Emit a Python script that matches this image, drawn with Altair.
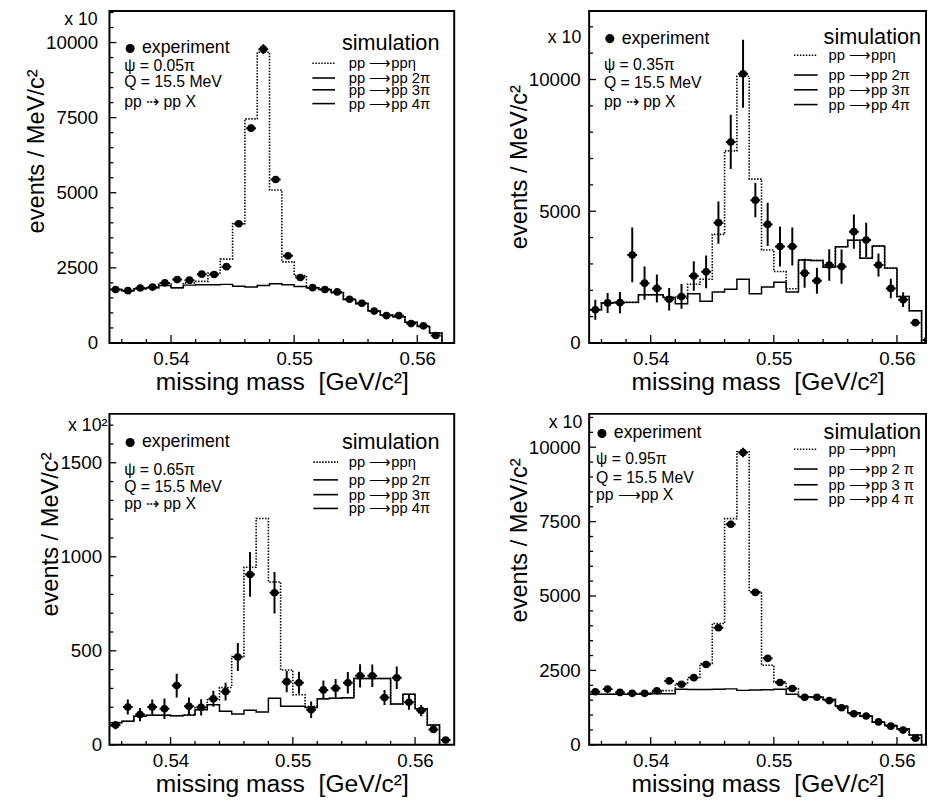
import altair as alt
import pandas as pd

FONT = "Liberation Sans"

# bin centres of the missing-mass histograms [GeV/c^2]
MASS = [0.5355, 0.5365, 0.5375, 0.5385, 0.5395, 0.5405, 0.5415, 0.5425, 0.5435, 0.5445,
        0.5455, 0.5465, 0.5475, 0.5485, 0.5495, 0.5505, 0.5515, 0.5525, 0.5535, 0.5545,
        0.5555, 0.5565, 0.5575, 0.5585, 0.5595, 0.5605, 0.5615, 0.5625]

# ---- psi = 0.05 pi  (x 10) ----
EXP1 = [1780, 1740, 1830, 1860, 2000, 2110, 2090, 2290, 2280, 2540, 3970, 7150, 9780, 5440,
        2900, 2180, 1840, 1780, 1700, 1455, 1320, 1060, 910, 910, 645, 570, 250]
ERR1 = [50, 50, 50, 50, 55, 55, 55, 60, 60, 65, 90, 120, 160, 110, 80, 60, 55, 55, 50, 50,
        45, 45, 40, 40, 35, 35, 30]
BG1 = [1780, 1740, 1805, 1840, 1915, 1840, 1925, 1935, 1935, 1950, 1890, 1860, 1915, 1970,
       1935, 1880, 1840, 1780, 1675, 1445, 1310, 1060, 930, 875, 690, 550, 330]
TOT1 = [1780, 1740, 1805, 1840, 2000, 1830, 2000, 2050, 2330, 2790, 3970, 7460, 9680, 5090,
        2700, 2240, 1840, 1780, 1675, 1445, 1310, 1060, 930, 875, 690, 550, 330]

# ---- psi = 0.35 pi  (x 10) ----
EXP2 = [1260, 1520, 1530, 3340, 2270, 2070, 1660, 1765, 2540, 2700, 4565, 7630, 10215, 5420,
        4500, 3660, 3660, 2650, 2360, 2960, 2900, 4225, 3910, 2960, 2070, 1640, 770, 110]
ERR2 = [380, 380, 400, 1040, 630, 530, 430, 470, 560, 620, 800, 1030, 1290, 650, 820, 760,
        720, 550, 490, 600, 650, 650, 650, 440, 370, 280, 60, 40]
BG2 = [1260, 1520, 1540, 1540, 1830, 1830, 1730, 1490, 1870, 1580, 1930, 2040, 2420, 1870,
       2120, 2300, 1930, 3150, 3130, 2875, 3650, 3900, 3215, 3680, 2840, 1765, 1220]
TOT2 = [1260, 1520, 1540, 1540, 1830, 1830, 1730, 1700, 2230, 2420, 4120, 7290, 10125, 6220,
        3530, 2710, 2055, 3150, 3130, 2875, 3650, 3900, 3215, 3680, 2840, 1765, 1220]

# ---- psi = 0.65 pi  (x 10^2) ----
EXP3 = [105, 201, 161, 201, 192, 315, 205, 199, 245, 283, 467, 906, None, 809, 336, 330, 187,
        292, 301, 330, 367, 367, 252, 357, 226, 182, 82, 26]
ERR3 = [22, 40, 35, 40, 55, 63, 47, 43, 43, 47, 75, 119, 0, 110, 56, 58, 44, 50, 49, 57, 62,
        60, 40, 60, 40, 30, 12, 8]
BG3 = [118, 125, 152, 157, 157, 155, 158, 187, 213, 178, 164, 184, 175, 248, 205, 205, 199,
       245, 248, 250, 353, 353, 353, 217, 269, 192, 105]
TOT3 = [118, 125, 152, 157, 157, 155, 158, 200, 240, 305, 470, 944, 1204, 866, 398, 266, 205,
        245, 248, 250, 353, 353, 353, 217, 269, 192, 105]

# ---- psi = 0.95 pi  (x 10) ----
EXP4 = [1784, 1872, 1762, 1729, 1729, 1817, 2148, 2037, 2258, 2698, 3932, 7412, 9824, 5121,
        2907, 2093, 1894, 1597, 1597, 1487, 1244, 1046, 969, 771, 628, 496, 220]
ERR4 = [50, 50, 50, 50, 50, 50, 55, 55, 60, 65, 90, 120, 160, 110, 80, 60, 55, 50, 50, 50,
        45, 45, 40, 40, 35, 35, 30]
BG4 = [1700, 1700, 1700, 1700, 1700, 1720, 1720, 1870, 1860, 1860, 1870, 1880, 1830, 1840,
       1850, 1870, 1700, 1620, 1600, 1520, 1300, 1080, 960, 760, 650, 540, 330]
TOT4 = [1700, 1700, 1700, 1700, 1720, 1780, 1820, 2060, 2260, 2730, 4075, 7600, 9850, 5143,
        2676, 2115, 1894, 1620, 1600, 1520, 1300, 1080, 960, 760, 650, 540, 330]

X_MAJOR = [0.54, 0.55, 0.56]
X_MINOR = [0.536, 0.538, 0.542, 0.544, 0.546, 0.548, 0.552, 0.554, 0.556, 0.558, 0.562]
Y_MAJOR_A = [0, 2500, 5000, 7500, 10000]
Y_MINOR_A = [500, 1000, 1500, 2000, 3000, 3500, 4000, 4500, 5500, 6000, 6500, 7000, 8000,
             8500, 9000, 9500, 10500, 11000]
Y_MAJOR_B = [0, 5000, 10000]
Y_MINOR_B = [1000, 2000, 3000, 4000, 6000, 7000, 8000, 9000, 11000, 12000]
Y_MAJOR_C = [0, 500, 1000, 1500]
Y_MINOR_C = [100, 200, 300, 400, 600, 700, 800, 900, 1100, 1200, 1300, 1400, 1600, 1700]

ARROW = "\u27f6"
REACTIONS = ["pp " + ARROW + "pp\u03b7", "pp " + ARROW + "pp 2\u03c0",
             "pp " + ARROW + "pp 3\u03c0", "pp " + ARROW + "pp 4\u03c0"]
REACTIONS4 = ["pp " + ARROW + "pp\u03b7", "pp " + ARROW + "pp 2 \u03c0",
              "pp " + ARROW + "pp 3 \u03c0", "pp " + ARROW + "pp 4 \u03c0"]

ONE = pd.DataFrame({"k": [0]})


def txt(s, x, y, size, align="left"):
    return alt.Chart(ONE).mark_text(text=s, align=align, baseline="middle", fontSize=size,
                                    font=FONT, color="black").encode(
        x=alt.value(x), y=alt.value(y))


def sample(x1, x2, y, dotted):
    if dotted:
        m = alt.Chart(ONE).mark_rule(color="black", strokeWidth=1.6, strokeDash=[1.5, 1.5])
    else:
        m = alt.Chart(ONE).mark_rule(color="black", strokeWidth=1.6)
    return m.encode(x=alt.value(x1), x2=alt.value(x2), y=alt.value(y))


def panel(c):
    W, H = c["w"], c["h"]
    xs = alt.Scale(domain=[0.535, c["xmax"]], nice=False, zero=False)
    ys = alt.Scale(domain=[0, c["ymax"]], nice=False, zero=False)
    nb = len(c["bg"])
    edges = [m - 0.0005 for m in MASS[:nb]] + [MASS[nb - 1] + 0.0005]
    hist = pd.DataFrame({"edge": edges, "bg": c["bg"] + [0], "tot": c["tot"] + [0]})
    rows = []
    for m, v, e in zip(MASS, c["exp"], c["err"]):
        if v is None:
            continue
        rows.append({"m": m, "v": v, "lo": v - e, "hi": v + e, "xl": m - 0.0004, "xr": m + 0.0004})
    exp = pd.DataFrame(rows)

    xaxis = alt.Axis(values=X_MAJOR, format=".2f", labelPadding=7, tickSize=0,
                     title="missing mass\u00a0\u00a0[GeV/c\u00b2]", titlePadding=1, titleFontSize=25)
    yaxis = alt.Axis(values=c["ymajor"], format="d", labelPadding=c["lp"], tickSize=0,
                     title="events / MeV/c\u00b2", titlePadding=-3, titleY=c["ty"])

    tot = alt.Chart(hist).mark_line(interpolate="step-after", color="black", strokeWidth=1.6,
                                    strokeDash=[1.5, 1.5], clip=True).encode(
        x=alt.X("edge:Q", scale=xs, axis=xaxis),
        y=alt.Y("tot:Q", scale=ys, axis=yaxis))
    bg = alt.Chart(hist).mark_line(interpolate="step-after", color="black", strokeWidth=1.5,
                                   clip=True).encode(
        x=alt.X("edge:Q"), y=alt.Y("bg:Q"))
    ev = alt.Chart(exp).mark_rule(color="black", strokeWidth=2, clip=True).encode(
        x="m:Q", y="lo:Q", y2="hi:Q")
    eh = alt.Chart(exp).mark_rule(color="black", strokeWidth=2, clip=True).encode(
        x="xl:Q", x2="xr:Q", y="v:Q")
    pts = alt.Chart(exp).mark_point(filled=True, shape="circle", size=60, color="black",
                                    opacity=1, clip=True).encode(x="m:Q", y="v:Q")

    xt_major = alt.Chart(pd.DataFrame({"t": X_MAJOR})).mark_rule(color="black", strokeWidth=1.3).encode(
        x="t:Q", y=alt.value(H), y2=alt.value(H - 8))
    xt_minor = alt.Chart(pd.DataFrame({"t": X_MINOR})).mark_rule(color="black", strokeWidth=1.3).encode(
        x="t:Q", y=alt.value(H), y2=alt.value(H - 4))
    yt_major = alt.Chart(pd.DataFrame({"t": c["ymajor"]})).mark_rule(color="black", strokeWidth=1.3).encode(
        y="t:Q", x=alt.value(0), x2=alt.value(7))
    yt_minor = alt.Chart(pd.DataFrame({"t": [t for t in c["yminor"] if t < c["ymax"]]})).mark_rule(
        color="black", strokeWidth=1.3).encode(
        y="t:Q", x=alt.value(0), x2=alt.value(4))

    a = c["ann"]
    reac = c["reac"]
    deco = [
        txt(c["scale"], a["sx"], a["sy"], 18, align="right"),
        alt.Chart(ONE).mark_point(filled=True, shape="circle", size=85, color="black", opacity=1).encode(
            x=alt.value(a["mx"]), y=alt.value(a["my"])),
        txt("experiment", a["mx"] + 12, a["my"], 18),
        txt(c["psi"], a["lx"], a["l1"], 16),
        txt("Q = 15.5 MeV", a["lx"], a["l2"], 16),
        txt(c["arrow"], a["lx"], a["l3"], 16),
        txt("simulation", a["simx"], a["simy"], 22, align="right"),
    ]
    for i, (yy, label) in enumerate(zip(a["ry"], reac)):
        deco.append(sample(a["s1"], a["s2"], yy, i == 0))
        deco.append(txt(label, a["rx"], yy, 15))

    return alt.layer(tot, bg, ev, eh, pts, xt_major, xt_minor, yt_major, yt_minor, *deco).properties(
        width=W, height=H)


P1 = dict(w=350, h=337, xmax=0.563, ymax=11050, exp=EXP1, err=ERR1, bg=BG1, tot=TOT1,
          ymajor=Y_MAJOR_A, yminor=Y_MINOR_A, lp=12, ty=142, scale="x 10",
          psi="\u03c8 = 0.05\u03c0", arrow="pp \u21e2 pp X", reac=REACTIONS,
          ann=dict(sx=-12, sy=9, mx=21, my=38, lx=15, l1=56, l2=72, l3=92, simx=335, simy=33,
                   s1=206, s2=229, rx=243, ry=[53, 68, 80, 94]))
P2 = dict(w=342, h=337, xmax=0.56236, ymax=12600, exp=EXP2, err=ERR2, bg=BG2, tot=TOT2,
          ymajor=Y_MAJOR_B, yminor=Y_MINOR_B, lp=9, ty=158, scale="x 10",
          psi="\u03c8 = 0.35\u03c0", arrow="pp \u21e2 pp X", reac=REACTIONS,
          ann=dict(sx=-8, sy=27, mx=21, my=28, lx=15, l1=55, l2=73, l3=92, simx=337, simy=27,
                   s1=208, s2=232, rx=243, ry=[45, 65, 80, 95]))
P3 = dict(w=350, h=336, xmax=0.5632, ymax=1760, exp=EXP3, err=ERR3, bg=BG3, tot=TOT3,
          ymajor=Y_MAJOR_C, yminor=Y_MINOR_C, lp=8, ty=122, scale="x 10\u00b2",
          psi="\u03c8 = 0.65\u03c0", arrow="pp \u21e2 pp X", reac=REACTIONS,
          ann=dict(sx=-2, sy=12, mx=21, my=29, lx=15, l1=57, l2=74, l3=92, simx=335, simy=29,
                   s1=207, s2=232, rx=243, ry=[49, 67, 82, 96]))
P4 = dict(w=342, h=336, xmax=0.56236, ymax=11120, exp=EXP4, err=ERR4, bg=BG4, tot=TOT4,
          ymajor=Y_MAJOR_A, yminor=Y_MINOR_A, lp=9, ty=128, scale="x 10",
          psi="\u03c8 = 0.95\u03c0", arrow="pp " + ARROW + "pp X", reac=REACTIONS4,
          ann=dict(sx=-7, sy=9, mx=13, my=20, lx=7, l1=46, l2=65, l3=82, simx=337, simy=19,
                   s1=208, s2=232, rx=243, ry=[36, 56, 72, 87]))

row1 = alt.hconcat(panel(P1), panel(P2), spacing=52)
row2 = alt.hconcat(panel(P3), panel(P4), spacing=52)

chart = alt.vconcat(row1, row2, spacing=18).properties(
    padding={"left": 16, "top": -4, "right": 0, "bottom": 0}
).configure_view(
    stroke="black", strokeWidth=2
).configure_axis(
    labelFont=FONT, titleFont=FONT, labelColor="black", titleColor="black",
    titleFontWeight="normal", domain=False, ticks=False, grid=False,
    labelFontSize=19, titleFontSize=24
)

chart.save("out.html", embed_options={"renderer": "svg", "actions": False})
